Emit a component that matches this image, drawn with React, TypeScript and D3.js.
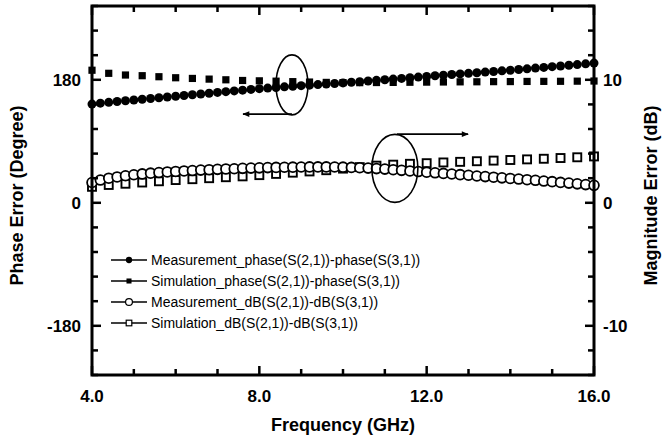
import * as d3 from "d3";

// frequency grid of the measured traces (GHz)
const measFreq = [
  4.0, 4.2, 4.4, 4.6, 4.8, 5.0, 5.2, 5.4, 5.6, 5.8, 6.0, 6.2, 6.4, 6.6, 6.8, 7.0, 7.2, 7.4, 7.6, 7.8,
  8.0, 8.2, 8.4, 8.6, 8.8, 9.0, 9.2, 9.4, 9.6, 9.8, 10.0, 10.2, 10.4, 10.6, 10.8, 11.0, 11.2, 11.4, 11.6, 11.8,
  12.0, 12.2, 12.4, 12.6, 12.8, 13.0, 13.2, 13.4, 13.6, 13.8, 14.0, 14.2, 14.4, 14.6, 14.8, 15.0, 15.2, 15.4, 15.6, 15.8,
  16.0,
];
// measured phase difference (degree)
const measPhase = [
  144.5, 145.8, 147.0, 148.2, 149.4, 150.5, 151.6, 152.7, 153.8, 154.9, 156.0, 157.1, 158.2, 159.3, 160.4, 161.5, 162.6, 163.7, 164.8, 165.9,
  167.0, 167.9, 168.8, 169.7, 170.6, 171.4, 172.2, 173.0, 173.8, 174.6, 175.5, 176.4, 177.3, 178.3, 179.2, 180.1, 181.0, 182.0, 183.0, 184.0,
  185.0, 185.9, 186.8, 187.7, 188.6, 189.5, 190.4, 191.3, 192.2, 193.1, 194.0, 195.0, 196.0, 197.1, 198.1, 199.2, 200.2, 201.3, 202.3, 203.4,
  204.5,
];
// measured magnitude difference (dB)
const measMag = [
  1.65, 1.85, 2.0, 2.1, 2.2, 2.28, 2.35, 2.41, 2.46, 2.51, 2.55, 2.59, 2.62, 2.66, 2.69, 2.72, 2.75, 2.77, 2.8, 2.82,
  2.84, 2.86, 2.88, 2.89, 2.9, 2.91, 2.92, 2.92, 2.92, 2.91, 2.9, 2.88, 2.85, 2.82, 2.78, 2.74, 2.69, 2.64, 2.59, 2.54,
  2.49, 2.44, 2.39, 2.34, 2.29, 2.24, 2.18, 2.13, 2.08, 2.03, 1.98, 1.93, 1.88, 1.83, 1.77, 1.72, 1.66, 1.6, 1.54, 1.48,
  1.42,
];

// frequency grid of the simulated traces (GHz)
const simFreq = [
  4.0, 4.4, 4.8, 5.2, 5.6, 6.0, 6.4, 6.8, 7.2, 7.6, 8.0, 8.4, 8.8, 9.2, 9.6, 10.0,
  10.4, 10.8, 11.2, 11.6, 12.0, 12.4, 12.8, 13.2, 13.6, 14.0, 14.4, 14.8, 15.2, 15.6, 16.0,
];
const simPhase = [
  194, 189.5, 187, 186, 184.5, 183, 182, 181, 180, 179, 178.5, 178, 177.3, 176.7, 176.2, 175.9,
  175.8, 176, 176.2, 176.4, 176.6, 176.8, 177, 177.1, 177.3, 177.4, 177.6, 177.7, 177.8, 178, 178.2,
];
const simMag = [
  1.3, 1.45, 1.55, 1.65, 1.75, 1.85, 1.92, 2.0, 2.08, 2.15, 2.25, 2.35, 2.45, 2.55, 2.65, 2.78,
  2.9, 3.02, 3.1, 3.17, 3.22, 3.28, 3.33, 3.38, 3.43, 3.48, 3.53, 3.58, 3.64, 3.7, 3.77,
];

const legendLabels = [
  "Measurement_phase(S(2,1))-phase(S(3,1))",
  "Simulation_phase(S(2,1))-phase(S(3,1))",
  "Measurement_dB(S(2,1))-dB(S(3,1))",
  "Simulation_dB(S(2,1))-dB(S(3,1))",
];

const W = 665;
const H = 438;
const m = { left: 92, right: 594, top: 6, bottom: 375 };
const FONT = "Arial, 'Liberation Sans', Helvetica, sans-serif";

const x = d3.scaleLinear().domain([4, 16]).range([m.left, m.right]);
const yL = d3.scaleLinear().domain([-252, 288]).range([m.bottom, m.top]);
const yR = d3.scaleLinear().domain([-14, 16]).range([m.bottom, m.top]);

type Kind = "fc" | "fs" | "oc" | "os";

function Marker({ kind, cx, cy, s }: { kind: Kind; cx: number; cy: number; s: number }) {
  if (kind === "fc") return <circle cx={cx} cy={cy} r={s * 4.5} fill="#000" />;
  if (kind === "fs") return <rect x={cx - s * 3.6} y={cy - s * 3.6} width={s * 7.2} height={s * 7.2} fill="#000" />;
  if (kind === "oc")
    return <circle cx={cx} cy={cy} r={s * 4.9} fill="#fff" stroke="#000" strokeWidth={s > 0.8 ? 1.8 : 1.2} />;
  return (
    <rect x={cx - s * 4} y={cy - s * 4} width={s * 8} height={s * 8} fill="#fff" stroke="#000" strokeWidth={s > 0.8 ? 1.9 : 1.2} />
  );
}

export default function App() {
  const xMinor = d3.range(4, 16.01, 1);
  const yMinor = d3.range(-252, 288.1, 36);

  // annotation anchors in data space
  const e1 = { cx: x(8.78), cy: yL(172.6) };
  const e2 = { cx: x(11.24), cy: yR(2.8) };
  const a1y = yL(129.8);
  const a2y = yR(5.58);

  return (
    <svg width={W} height={H} style={{ position: "absolute", left: 0, top: 0, background: "#fff" }} fontFamily={FONT}>
      <defs>
        <marker id="ah" viewBox="0 0 10 10" refX="9" refY="5" markerWidth="9" markerHeight="7" orient="auto" markerUnits="userSpaceOnUse">
          <path d="M0,1 L10,5 L0,9 Z" fill="#000" />
        </marker>
      </defs>
      <rect width={W} height={H} fill="#fff" />

      {/* data */}
      {simFreq.map((f, i) => (
        <Marker key={"sm" + i} kind="os" cx={x(f)} cy={yR(simMag[i])} s={1} />
      ))}
      {measFreq.map((f, i) => (
        <Marker key={"mm" + i} kind="oc" cx={x(f)} cy={yR(measMag[i])} s={1} />
      ))}
      {simFreq.map((f, i) => (
        <Marker key={"sp" + i} kind="fs" cx={x(f)} cy={yL(simPhase[i])} s={1} />
      ))}
      {measFreq.map((f, i) => (
        <Marker key={"mp" + i} kind="fc" cx={x(f)} cy={yL(measPhase[i])} s={1} />
      ))}

      {/* annotations */}
      <g fill="none" stroke="#000" strokeWidth={1.6}>
        <ellipse cx={e1.cx} cy={e1.cy} rx={16} ry={30} />
        <line x1={e1.cx} y1={a1y} x2={x(7.61)} y2={a1y} markerEnd="url(#ah)" />
        <ellipse cx={e2.cx} cy={e2.cy} rx={23} ry={34} />
        <line x1={e2.cx + 2} y1={a2y} x2={x(12.99)} y2={a2y} markerEnd="url(#ah)" />
      </g>

      {/* ticks */}
      <g stroke="#000" strokeWidth={2.5}>
        {xMinor.map((v) => {
          const major = v % 4 === 0;
          const len = major ? 9 : 6;
          return (
            <g key={"xt" + v}>
              <line x1={x(v)} x2={x(v)} y1={m.bottom} y2={m.bottom - len} />
              <line x1={x(v)} x2={x(v)} y1={m.top} y2={m.top + len} />
            </g>
          );
        })}
        {yMinor.map((v) => {
          const major = Math.round(v) % 180 === 0;
          const len = major ? 9 : 6;
          return (
            <g key={"yt" + v}>
              <line x1={m.left} x2={m.left + len} y1={yL(v)} y2={yL(v)} />
              <line x1={m.right} x2={m.right - len} y1={yL(v)} y2={yL(v)} />
            </g>
          );
        })}
      </g>
      <rect x={m.left} y={m.top} width={m.right - m.left} height={m.bottom - m.top} fill="none" stroke="#000" strokeWidth={3} />

      {/* tick labels */}
      <g fontWeight="bold" fontSize={17} fill="#000">
        {[4, 8, 12, 16].map((v) => (
          <text key={"xl" + v} x={x(v)} y={402} textAnchor="middle">
            {v.toFixed(1)}
          </text>
        ))}
        {[-180, 0, 180].map((v) => (
          <text key={"yl" + v} x={81} y={yL(v) + 6} textAnchor="end">
            {v}
          </text>
        ))}
        {[-10, 0, 10].map((v) => (
          <text key={"yr" + v} x={603} y={yR(v) + 6} textAnchor="start">
            {v}
          </text>
        ))}
      </g>

      {/* axis titles */}
      <g fontWeight="bold" fontSize={18} fill="#000">
        <text x={x(10)} y={431} textAnchor="middle">
          Frequency (GHz)
        </text>
        <text transform={`translate(23,${(m.top + m.bottom) / 2 + 5}) rotate(-90)`} textAnchor="middle">
          Phase Error (Degree)
        </text>
        <text transform={`translate(657,${(m.top + m.bottom) / 2 + 5}) rotate(-90)`} textAnchor="middle">
          Magnitude Error (dB)
        </text>
      </g>

      {/* legend */}
      <g fontSize={14} fill="#000">
        {legendLabels.map((t, i) => {
          const ly = 260 + i * 21;
          const kinds: Kind[] = ["fc", "fs", "oc", "os"];
          return (
            <g key={"lg" + i}>
              <line x1={111} x2={147} y1={ly} y2={ly} stroke="#000" strokeWidth={1.6} />
              <Marker kind={kinds[i]} cx={129} cy={ly} s={0.7} />
              <text x={151} y={ly + 5}>
                {t}
              </text>
            </g>
          );
        })}
      </g>
    </svg>
  );
}
